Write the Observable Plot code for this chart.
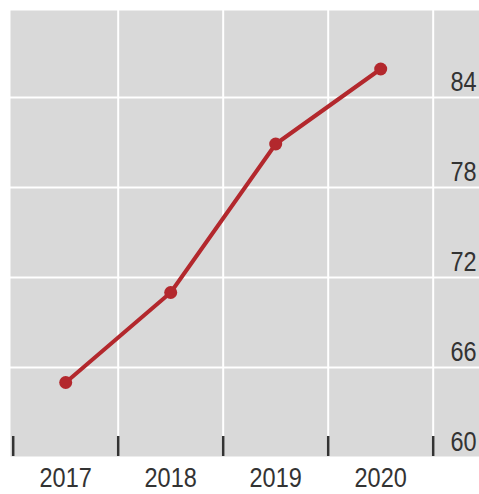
<!DOCTYPE html>
<html><head><meta charset="utf-8">
<script src="https://cdn.jsdelivr.net/npm/d3@7"></script>
<script src="https://cdn.jsdelivr.net/npm/@observablehq/plot@0.6"></script>
<style>body{margin:0;background:#fff}</style>
</head><body><div id="chart"></div>
<script>
const years = [2017, 2018, 2019, 2020];
const values = [65, 71, 80.9, 85.9];
const yTicks = [60, 66, 72, 78, 84];
const yGrid = [66, 72, 78, 84];
const xBounds = [2016.5, 2017.5, 2018.5, 2019.5, 2020.5];
const xGrid = [2017.5, 2018.5, 2019.5, 2020.5];
const data = years.map((year, i) => ({year, value: values[i]}));

const chart = Plot.plot({
  width: 479, height: 494,
  marginTop: 10, marginLeft: 10, marginRight: 0, marginBottom: 38,
  style: {fontFamily: "'Liberation Sans Narrow', 'Liberation Sans', sans-serif", background: "#fff", color: "#333"},
  x: {type: "linear", domain: [2016.5, 2020.5], range: [12.7, 432.7]},
  y: {domain: [60, 89.8], range: [457, 10]},
  marks: [
    Plot.frame({fill: "#d9d9d9", stroke: null}),
    Plot.ruleY(yGrid, {stroke: "#fff", strokeWidth: 2}),
    Plot.ruleX(xGrid, {stroke: "#fff", strokeWidth: 2}),
    Plot.axisX(xBounds, {tickSize: -20, tickFormat: () => "", stroke: "#333", strokeWidth: 2.5, label: null}),
    Plot.axisX(years, {tickSize: 0, tickPadding: 11, tickFormat: d => String(d), fontSize: 28, fill: "#333", label: null}),
    Plot.axisY(yTicks, {anchor: "right", tickSize: 0, tickPadding: 0, dx: -29, textAnchor: "start", lineAnchor: "bottom", dy: -7, fontSize: 28, fill: "#333", label: null}),
    Plot.line(data, {x: "year", y: "value", stroke: "#b3282d", strokeWidth: 4}),
    Plot.dot(data, {x: "year", y: "value", r: 6.5, fill: "#b3282d"})
  ]
});
// condense the digits horizontally to mimic the narrow typeface of the reference
d3.select(chart).selectAll("text").each(function() {
  const t = d3.select(this);
  const tr = t.attr("transform");
  if (tr) t.attr("transform", tr + " scale(0.84,1)");
  else {
    const x = +t.attr("x") || 0, y = +t.attr("y") || 0;
    t.attr("transform", `translate(${x},${y}) scale(0.84,1)`).attr("x", null).attr("y", null);
  }
});
document.getElementById("chart").append(chart);
</script>
</body></html>
